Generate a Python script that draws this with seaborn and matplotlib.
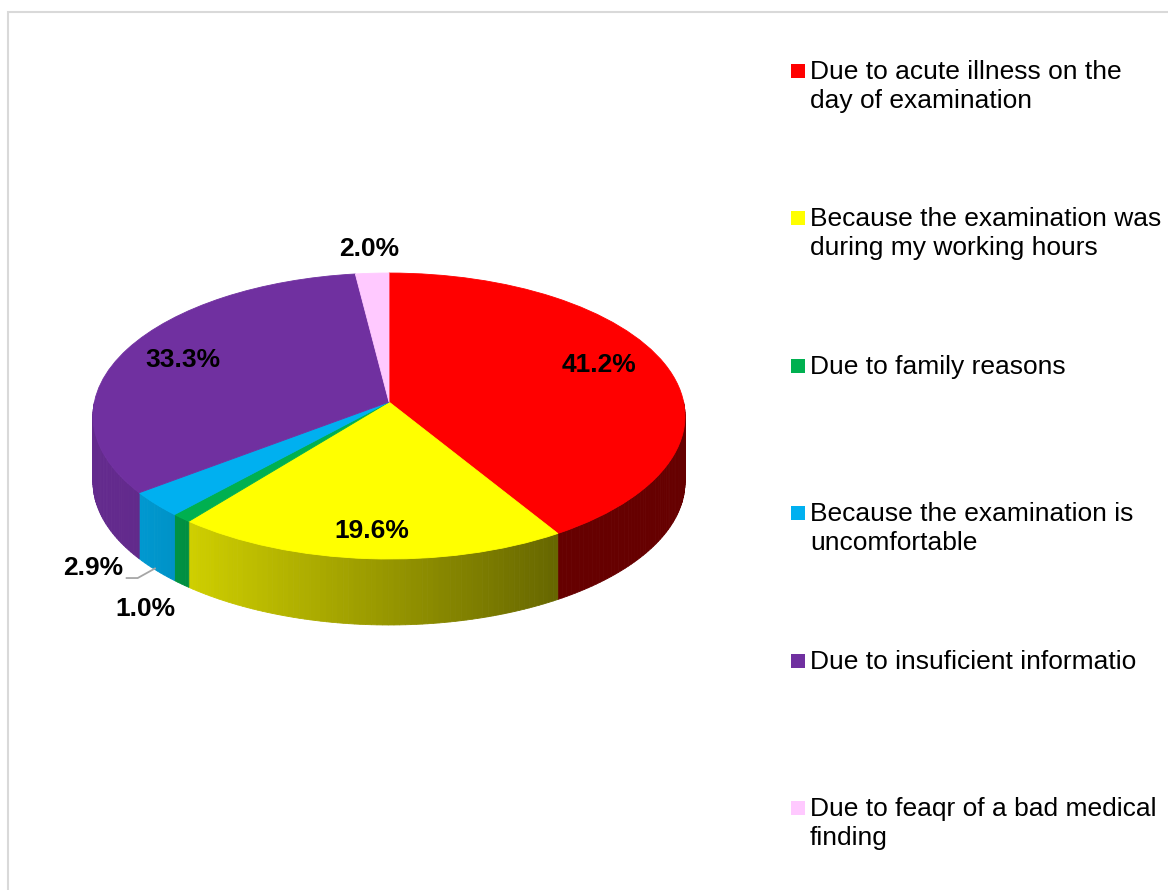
import numpy as np
import matplotlib
matplotlib.use("Agg")
import matplotlib.pyplot as plt
import seaborn as sns
from matplotlib.patches import Rectangle
from matplotlib.transforms import Transform

# ---------------- data ----------------
categories = [
    "Due to acute illness on the\nday of examination",
    "Because the examination was\nduring my working hours",
    "Due to family reasons",
    "Because the examination is\nuncomfortable",
    "Due to insuficient informatio",
    "Due to feaqr of a bad medical\nfinding",
]
values = [41.2, 19.6, 1.0, 2.9, 33.3, 2.0]
pct_labels = ["41.2%", "19.6%", "1.0%", "2.9%", "33.3%", "2.0%"]
colors = ["#FF0000", "#FFFF00", "#00B050", "#00B0F0", "#7030A0", "#FFC9FF"]

# ---------------- layout / style ----------------
label_dist = [0.78, 0.84, 1.47, 1.384, 0.78, 1.21]   # radial distance of each % label
label_turn = [-4.4, 0, -11.2, -7.1, 0, 0]            # angular nudge (deg, clockwise)

sns.set_theme(style="white")
plt.rcParams["font.family"] = ["Liberation Sans", "DejaVu Sans"]

W, H = 1168, 890
fig = plt.figure(figsize=(W / 100, H / 100), dpi=100)
fig.patch.set_facecolor("white")
ax = fig.add_axes([0, 0, 1, 1])


class PieProjection(Transform):
    """Perspective view of the pie's unit disk (tilted plate)."""
    input_dims = 2
    output_dims = 2
    is_separable = False
    has_inverse = False

    def __init__(self, cx, cy, sx, sy, k):
        super().__init__()
        self.cx, self.cy, self.sx, self.sy, self.k = cx, cy, sx, sy, k

    def transform_non_affine(self, values):
        v = np.asarray(values, dtype=float).reshape(-1, 2)
        X, Y = v[:, 0], v[:, 1]
        w = 1.0 + self.k * Y
        return np.column_stack([self.cx + self.sx * X / w, self.cy - self.sy * Y / w])


proj = PieProjection(cx=389, cy=402, sx=294.6, sy=141.6, k=0.098)
depth = 66  # px thickness of the pie

wedges, _ = ax.pie(values, colors=colors, startangle=90, counterclock=False,
                   radius=1, wedgeprops=dict(linewidth=0.6))
ax.set_aspect("auto")
ax.set_xlim(0, W)
ax.set_ylim(H, 0)
ax.axis("off")

for w in wedges:
    w.set_edgecolor(w.get_facecolor())
    w.set_transform(proj + ax.transData)
    w.set_zorder(3)

# ---------------- side wall (front half) ----------------
def shade(u):
    xn = (u - 389) / 296.0
    return float(np.clip(0.59 - 0.33 * xn, 0.40, 0.88))

for w, col in zip(wedges, colors):
    t1, t2 = w.theta1, w.theta2
    base = np.array(matplotlib.colors.to_rgb(col))
    for kk in (-1, 0, 1):
        lo = max(t1, 180 + 360 * kk)
        hi = min(t2, 360 + 360 * kk)
        if lo >= hi:
            continue
        n = max(2, int(np.ceil((hi - lo) / 1.0)) + 1)
        ang = np.radians(np.linspace(lo, hi, n))
        pts = proj.transform(np.column_stack([np.cos(ang), np.sin(ang)]))
        for i in range(n - 1):
            (u1, v1), (u2, v2) = pts[i], pts[i + 1]
            c = np.clip(base * shade((u1 + u2) / 2), 0, 1)
            ax.fill([u1, u2, u2, u1], [v1, v2, v2 + depth, v1 + depth],
                    color=c, lw=0.6, ec=c, zorder=1)

# ---------------- percentage labels ----------------
for w, lab, d, turn in zip(wedges, pct_labels, label_dist, label_turn):
    phi = np.radians((w.theta1 + w.theta2) / 2 - turn)
    ax.text(d * np.cos(phi), d * np.sin(phi), lab, transform=proj + ax.transData,
            ha="center", va="center", fontsize=19, fontweight="bold",
            color="black", zorder=5)

# leader line for the 2.9% slice
wb = wedges[3]
phi_b = np.radians((wb.theta1 + wb.theta2) / 2)
end = proj.transform(np.array([[np.cos(phi_b), np.sin(phi_b)]]))[0] + np.array([0, depth - 2])
elbow = end + np.array([-18, 10])
start = elbow + np.array([-12, 0])
ax.plot([start[0], elbow[0], end[0]], [start[1], elbow[1], end[1]],
        color="#A6A6A6", lw=1.3, zorder=4, solid_capstyle="butt")

# ---------------- legend ----------------
line_gap = 29
for i, (lab, col) in enumerate(zip(categories, colors)):
    base_y = 79 + 147.4 * i
    fig.add_artist(Rectangle((791 / W, 1 - (base_y - 1) / H), 14 / W, 14 / H,
                             transform=fig.transFigure, facecolor=col,
                             edgecolor="none"))
    for j, line in enumerate(lab.split("\n")):
        fig.text(810 / W, 1 - (base_y + j * line_gap) / H, line, ha="left",
                 va="baseline", fontsize=19, color="black")

# chart-area border
fig.add_artist(Rectangle((8 / W, -0.05), 1.1, 1 - 12 / H + 0.05,
                         transform=fig.transFigure, facecolor="none",
                         edgecolor="#D9D9D9", lw=1.5))

fig.savefig("out.png", dpi=100, facecolor="white")
